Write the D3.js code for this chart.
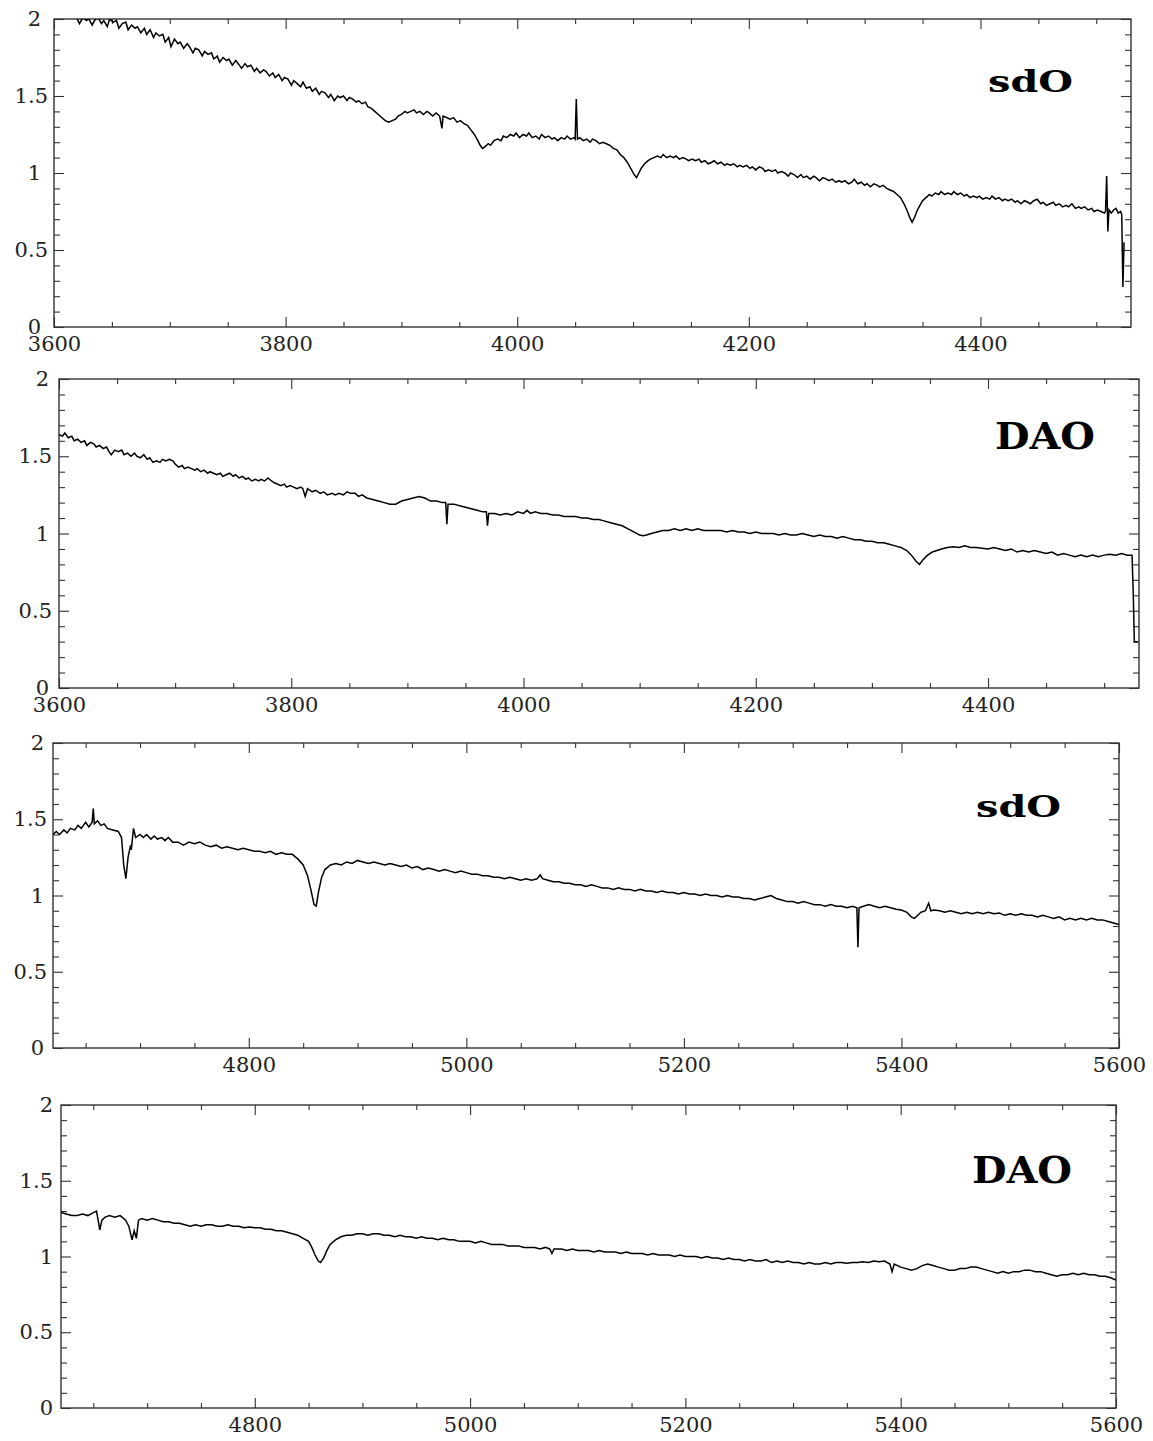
<!DOCTYPE html>
<html><head><meta charset="utf-8">
<script src="https://cdn.jsdelivr.net/npm/d3@7"></script>
<style>body{margin:0;background:#fff}</style>
</head><body><svg id="c" width="1153" height="1441"></svg>
<script>
// ---- Data: wavelength (Å), relative flux ----
const sdoBlue = [
[3600,2.08],[3604,2.05],[3608,2.07],[3612,2.03],[3616,2.04],[3620,2.00],[3622,1.97],[3625,2.01],[3628,1.99],[3630,2.00],
[3633,1.96],[3635,1.99],[3638,2.01],[3641,1.97],[3643,1.99],[3646,1.95],[3648,2.00],[3651,1.98],[3654,1.99],[3656,1.94],
[3659,1.97],[3662,1.98],[3664,1.93],[3667,1.96],[3670,1.94],[3672,1.95],[3675,1.91],[3678,1.94],[3680,1.90],[3683,1.93],
[3686,1.88],[3688,1.91],[3691,1.89],[3694,1.90],[3696,1.85],[3699,1.88],[3701,1.82],[3704,1.87],[3707,1.84],[3709,1.85],
[3712,1.81],[3715,1.84],[3717,1.82],[3720,1.78],[3722,1.81],[3725,1.80],[3728,1.76],[3730,1.79],[3733,1.77],[3736,1.78],
[3738,1.74],[3741,1.76],[3743,1.72],[3746,1.75],[3749,1.73],[3751,1.74],[3754,1.70],[3757,1.73],[3759,1.71],[3762,1.68],
[3765,1.71],[3767,1.69],[3770,1.70],[3773,1.66],[3775,1.68],[3778,1.65],[3781,1.67],[3783,1.66],[3786,1.63],[3789,1.65],
[3791,1.62],[3794,1.64],[3797,1.60],[3799,1.62],[3802,1.61],[3805,1.57],[3807,1.60],[3810,1.58],[3813,1.56],[3815,1.59],
[3818,1.55],[3821,1.56],[3823,1.53],[3826,1.55],[3829,1.51],[3831,1.53],[3834,1.52],[3837,1.49],[3839,1.51],[3842,1.47],
[3845,1.50],[3847,1.49],[3850,1.50],[3853,1.47],[3855,1.49],[3858,1.48],[3861,1.46],[3863,1.47],[3866,1.45],[3869,1.46],
[3871,1.43],[3874,1.42],[3877,1.40],[3880,1.38],[3883,1.36],[3886,1.34],[3889,1.33],[3892,1.34],[3895,1.35],[3897,1.37],
[3900,1.38],[3903,1.40],[3905,1.39],[3908,1.40],[3911,1.41],[3913,1.39],[3916,1.40],[3919,1.38],[3922,1.40],[3924,1.39],
[3927,1.37],[3930,1.39],[3933,1.37],[3935,1.29],[3936,1.37],[3939,1.36],[3942,1.35],[3945,1.36],[3948,1.33],[3951,1.34],
[3954,1.32],[3957,1.31],[3960,1.28],[3963,1.25],[3966,1.21],[3968,1.18],[3970,1.16],[3972,1.17],[3975,1.19],[3977,1.18],
[3980,1.21],[3983,1.22],[3986,1.21],[3988,1.24],[3991,1.23],[3994,1.25],[3997,1.24],[3999,1.26],[4002,1.23],[4005,1.25],
[4008,1.24],[4010,1.26],[4013,1.23],[4016,1.24],[4019,1.22],[4021,1.25],[4024,1.23],[4027,1.24],[4030,1.22],[4032,1.23],
[4035,1.21],[4038,1.23],[4041,1.22],[4043,1.24],[4046,1.22],[4049,1.23],[4050,1.22],[4051,1.48],[4052,1.22],[4054,1.23],
[4057,1.21],[4060,1.22],[4063,1.20],[4065,1.22],[4068,1.21],[4071,1.19],[4074,1.20],[4077,1.19],[4080,1.18],[4083,1.16],
[4086,1.15],[4089,1.12],[4092,1.10],[4095,1.07],[4098,1.03],[4101,0.99],[4103,0.97],[4105,1.00],[4107,1.03],[4110,1.06],
[4113,1.08],[4115,1.09],[4118,1.10],[4121,1.11],[4124,1.10],[4126,1.12],[4129,1.10],[4132,1.11],[4135,1.10],[4137,1.11],
[4140,1.09],[4143,1.10],[4146,1.09],[4148,1.08],[4151,1.09],[4154,1.08],[4157,1.09],[4159,1.07],[4162,1.08],[4165,1.06],
[4168,1.07],[4170,1.08],[4173,1.06],[4176,1.07],[4179,1.05],[4181,1.06],[4184,1.05],[4187,1.06],[4190,1.04],[4192,1.05],
[4195,1.04],[4198,1.05],[4201,1.03],[4203,1.04],[4206,1.02],[4209,1.04],[4212,1.03],[4214,1.01],[4217,1.02],[4220,1.01],
[4223,1.02],[4225,1.00],[4228,1.01],[4231,1.00],[4234,0.98],[4236,1.00],[4239,0.99],[4242,0.97],[4245,0.99],[4247,0.97],
[4250,0.98],[4253,0.96],[4256,0.98],[4258,0.97],[4261,0.95],[4264,0.97],[4267,0.96],[4269,0.95],[4272,0.96],[4275,0.94],
[4278,0.95],[4280,0.94],[4283,0.95],[4286,0.93],[4289,0.94],[4291,0.96],[4294,0.93],[4297,0.94],[4300,0.92],[4302,0.93],
[4305,0.91],[4308,0.93],[4311,0.92],[4313,0.91],[4316,0.92],[4319,0.90],[4322,0.89],[4325,0.88],[4328,0.86],[4331,0.84],
[4334,0.80],[4337,0.75],[4339,0.71],[4341,0.68],[4343,0.71],[4345,0.75],[4347,0.78],[4350,0.82],[4353,0.84],[4356,0.86],
[4358,0.85],[4361,0.87],[4364,0.86],[4366,0.88],[4369,0.86],[4372,0.87],[4375,0.86],[4377,0.88],[4380,0.86],[4383,0.87],
[4386,0.85],[4388,0.86],[4391,0.84],[4394,0.85],[4397,0.84],[4399,0.85],[4402,0.83],[4405,0.84],[4408,0.83],[4410,0.85],
[4413,0.83],[4416,0.84],[4419,0.82],[4421,0.83],[4424,0.82],[4427,0.83],[4430,0.81],[4432,0.82],[4435,0.80],[4438,0.82],
[4441,0.81],[4443,0.80],[4446,0.82],[4449,0.83],[4452,0.80],[4454,0.81],[4457,0.79],[4460,0.80],[4463,0.81],[4465,0.79],
[4468,0.80],[4471,0.78],[4474,0.79],[4476,0.78],[4479,0.80],[4482,0.77],[4485,0.78],[4487,0.77],[4490,0.78],[4493,0.76],
[4496,0.77],[4498,0.75],[4501,0.76],[4504,0.75],[4507,0.74],[4508,0.75],[4509,0.98],[4510,0.62],[4511,0.76],[4513,0.74],
[4515,0.76],[4517,0.77],[4519,0.74],[4521,0.75],[4522,0.73],[4523,0.26],[4524,0.55]
];
const daoBlue = [
[3600,1.64],[3603,1.63],[3605,1.65],[3608,1.62],[3611,1.63],[3613,1.60],[3616,1.61],[3619,1.59],[3622,1.60],[3624,1.57],
[3627,1.59],[3630,1.58],[3632,1.56],[3635,1.57],[3638,1.55],[3641,1.56],[3643,1.53],[3645,1.51],[3648,1.54],[3651,1.53],
[3654,1.54],[3656,1.51],[3659,1.52],[3662,1.50],[3665,1.52],[3667,1.50],[3670,1.49],[3673,1.51],[3676,1.48],[3678,1.49],
[3681,1.46],[3684,1.47],[3687,1.46],[3689,1.48],[3692,1.47],[3695,1.48],[3698,1.47],[3700,1.45],[3703,1.43],[3706,1.44],
[3708,1.42],[3711,1.43],[3714,1.42],[3717,1.41],[3719,1.42],[3722,1.40],[3725,1.41],[3728,1.39],[3730,1.40],[3733,1.39],
[3736,1.38],[3739,1.39],[3741,1.37],[3744,1.38],[3747,1.39],[3750,1.37],[3752,1.38],[3755,1.36],[3758,1.37],[3761,1.35],
[3763,1.36],[3766,1.34],[3769,1.35],[3772,1.34],[3774,1.35],[3777,1.34],[3780,1.36],[3783,1.34],[3785,1.33],[3788,1.32],
[3791,1.31],[3794,1.32],[3796,1.30],[3799,1.31],[3802,1.30],[3805,1.29],[3808,1.30],[3810,1.29],[3812,1.24],[3814,1.29],
[3818,1.27],[3821,1.28],[3825,1.26],[3828,1.27],[3831,1.25],[3835,1.26],[3838,1.25],[3841,1.26],[3845,1.25],[3848,1.27],
[3851,1.26],[3855,1.26],[3858,1.24],[3861,1.25],[3865,1.23],[3870,1.22],[3875,1.21],[3880,1.20],[3885,1.19],[3890,1.19],
[3895,1.21],[3900,1.22],[3905,1.23],[3910,1.24],[3915,1.23],[3920,1.21],[3925,1.21],[3930,1.20],[3933,1.20],[3934,1.06],
[3935,1.19],[3940,1.19],[3945,1.18],[3950,1.17],[3955,1.16],[3960,1.15],[3965,1.14],[3968,1.14],[3969,1.05],[3970,1.13],
[3975,1.13],[3980,1.12],[3985,1.13],[3990,1.12],[3995,1.14],[4000,1.13],[4003,1.15],[4006,1.13],[4010,1.14],[4015,1.13],
[4020,1.13],[4025,1.12],[4030,1.12],[4035,1.11],[4040,1.11],[4045,1.11],[4050,1.10],[4055,1.10],[4060,1.09],[4065,1.09],
[4070,1.08],[4075,1.07],[4080,1.06],[4085,1.05],[4090,1.03],[4095,1.01],[4100,0.99],[4103,0.985],[4106,0.99],[4110,1.00],
[4115,1.01],[4120,1.02],[4125,1.02],[4130,1.03],[4135,1.02],[4140,1.03],[4145,1.02],[4150,1.03],[4155,1.02],[4160,1.02],
[4165,1.02],[4170,1.02],[4175,1.01],[4180,1.02],[4185,1.01],[4190,1.01],[4195,1.00],[4200,1.01],[4205,1.00],[4210,1.00],
[4215,1.00],[4220,0.99],[4225,1.00],[4230,0.99],[4235,0.99],[4240,1.00],[4245,0.99],[4250,0.98],[4255,0.99],[4260,0.98],
[4265,0.98],[4270,0.97],[4275,0.98],[4280,0.97],[4285,0.96],[4290,0.96],[4295,0.95],[4300,0.95],[4305,0.94],[4310,0.94],
[4315,0.93],[4320,0.92],[4325,0.91],[4330,0.89],[4334,0.86],[4338,0.82],[4341,0.80],[4344,0.83],[4348,0.86],[4352,0.88],
[4356,0.89],[4360,0.90],[4365,0.91],[4370,0.915],[4375,0.91],[4380,0.92],[4385,0.91],[4390,0.91],[4395,0.905],[4400,0.90],
[4405,0.91],[4410,0.90],[4415,0.89],[4420,0.90],[4425,0.88],[4430,0.89],[4435,0.88],[4440,0.89],[4445,0.88],[4450,0.87],
[4455,0.88],[4460,0.86],[4465,0.87],[4470,0.86],[4475,0.85],[4480,0.86],[4485,0.85],[4490,0.86],[4495,0.85],[4500,0.86],
[4505,0.865],[4510,0.86],[4515,0.87],[4520,0.86],[4524,0.86],[4525,0.63],[4526,0.30],[4529,0.30]
];
const sdoRed = [
[4620,1.40],[4623,1.42],[4626,1.40],[4630,1.43],[4633,1.41],[4636,1.44],[4640,1.43],[4643,1.46],[4646,1.44],[4650,1.48],
[4653,1.45],[4656,1.48],[4657,1.57],[4658,1.47],[4661,1.49],[4664,1.46],[4667,1.47],[4670,1.44],[4675,1.43],[4680,1.42],
[4683,1.38],[4685,1.20],[4687,1.11],[4689,1.25],[4691,1.32],[4692,1.30],[4694,1.44],[4696,1.38],[4700,1.40],[4703,1.38],
[4706,1.40],[4710,1.37],[4713,1.39],[4716,1.37],[4720,1.38],[4723,1.36],[4726,1.38],[4730,1.35],[4735,1.35],[4740,1.33],
[4745,1.35],[4750,1.34],[4755,1.35],[4760,1.33],[4765,1.32],[4770,1.33],[4775,1.31],[4780,1.32],[4785,1.31],[4790,1.30],
[4795,1.31],[4800,1.30],[4805,1.29],[4810,1.29],[4815,1.28],[4820,1.29],[4825,1.27],[4830,1.28],[4835,1.27],[4840,1.27],
[4845,1.24],[4850,1.20],[4854,1.13],[4857,1.04],[4860,0.94],[4862,0.93],[4864,1.02],[4867,1.12],[4870,1.17],[4875,1.20],
[4880,1.21],[4885,1.20],[4890,1.22],[4895,1.21],[4900,1.23],[4905,1.22],[4910,1.21],[4915,1.22],[4920,1.21],[4925,1.20],
[4930,1.21],[4935,1.20],[4940,1.19],[4945,1.20],[4950,1.18],[4955,1.19],[4960,1.17],[4965,1.18],[4970,1.17],[4975,1.16],
[4980,1.17],[4985,1.16],[4990,1.15],[4995,1.16],[5000,1.15],[5005,1.14],[5010,1.14],[5015,1.13],[5020,1.13],[5025,1.12],
[5030,1.12],[5035,1.11],[5040,1.12],[5045,1.11],[5050,1.10],[5055,1.11],[5060,1.10],[5065,1.11],[5068,1.135],[5070,1.11],
[5075,1.10],[5080,1.09],[5085,1.09],[5090,1.08],[5095,1.08],[5100,1.07],[5105,1.07],[5110,1.06],[5115,1.07],[5120,1.06],
[5125,1.05],[5130,1.05],[5135,1.04],[5140,1.05],[5145,1.04],[5150,1.04],[5155,1.03],[5160,1.04],[5165,1.03],[5170,1.03],
[5175,1.02],[5180,1.03],[5185,1.02],[5190,1.02],[5195,1.01],[5200,1.02],[5205,1.01],[5210,1.01],[5215,1.00],[5220,1.01],
[5225,1.00],[5230,1.00],[5235,0.99],[5240,1.00],[5245,0.99],[5250,0.99],[5255,0.98],[5260,0.98],[5265,0.97],[5270,0.98],
[5275,0.99],[5280,1.00],[5285,0.98],[5290,0.97],[5295,0.96],[5300,0.96],[5305,0.95],[5310,0.96],[5315,0.95],[5320,0.94],
[5325,0.94],[5330,0.93],[5335,0.94],[5340,0.93],[5345,0.93],[5350,0.92],[5355,0.93],[5359,0.92],[5360,0.66],[5361,0.92],
[5365,0.93],[5370,0.94],[5375,0.93],[5380,0.92],[5385,0.93],[5390,0.92],[5395,0.91],[5400,0.905],[5405,0.89],[5409,0.86],
[5412,0.85],[5415,0.87],[5418,0.89],[5422,0.90],[5425,0.95],[5427,0.90],[5430,0.905],[5435,0.90],[5440,0.89],[5445,0.90],
[5450,0.89],[5455,0.88],[5460,0.89],[5465,0.88],[5470,0.89],[5475,0.88],[5480,0.89],[5485,0.88],[5490,0.885],[5495,0.87],
[5500,0.88],[5505,0.87],[5510,0.88],[5515,0.87],[5520,0.87],[5525,0.86],[5530,0.87],[5535,0.86],[5540,0.85],[5545,0.86],
[5550,0.84],[5555,0.85],[5560,0.84],[5565,0.85],[5570,0.84],[5575,0.85],[5580,0.84],[5585,0.84],[5590,0.83],[5595,0.82],
[5600,0.81]
];
const daoRed = [
[4620,1.29],[4625,1.28],[4630,1.27],[4635,1.27],[4640,1.28],[4645,1.27],[4650,1.29],[4653,1.30],[4655,1.22],[4656,1.175],
[4658,1.24],[4661,1.26],[4665,1.27],[4670,1.26],[4675,1.27],[4680,1.24],[4683,1.20],[4686,1.11],[4688,1.17],[4690,1.12],
[4692,1.24],[4695,1.25],[4700,1.24],[4705,1.25],[4710,1.24],[4715,1.23],[4720,1.23],[4725,1.22],[4730,1.22],[4735,1.21],
[4740,1.20],[4745,1.21],[4750,1.20],[4755,1.21],[4760,1.21],[4765,1.20],[4770,1.20],[4775,1.21],[4780,1.20],[4785,1.20],
[4790,1.19],[4795,1.195],[4800,1.19],[4805,1.19],[4810,1.18],[4815,1.18],[4820,1.17],[4825,1.17],[4830,1.16],[4835,1.15],
[4840,1.14],[4845,1.12],[4850,1.10],[4853,1.06],[4856,1.01],[4859,0.97],[4861,0.96],[4864,0.99],[4867,1.04],[4870,1.08],
[4875,1.11],[4880,1.13],[4885,1.14],[4890,1.14],[4895,1.15],[4900,1.15],[4905,1.14],[4910,1.15],[4915,1.15],[4920,1.14],
[4925,1.14],[4930,1.13],[4935,1.14],[4940,1.13],[4945,1.13],[4950,1.12],[4955,1.13],[4960,1.12],[4965,1.12],[4970,1.11],
[4975,1.12],[4980,1.11],[4985,1.11],[4990,1.10],[4995,1.10],[5000,1.10],[5005,1.09],[5010,1.10],[5015,1.09],[5020,1.08],
[5025,1.08],[5030,1.08],[5035,1.07],[5040,1.07],[5045,1.07],[5050,1.06],[5055,1.06],[5060,1.06],[5065,1.05],[5070,1.06],
[5074,1.05],[5076,1.02],[5078,1.05],[5080,1.05],[5085,1.05],[5090,1.04],[5095,1.05],[5100,1.04],[5105,1.04],[5110,1.04],
[5115,1.03],[5120,1.04],[5125,1.03],[5130,1.03],[5135,1.03],[5140,1.02],[5145,1.03],[5150,1.02],[5155,1.02],[5160,1.02],
[5165,1.01],[5170,1.02],[5175,1.01],[5180,1.01],[5185,1.01],[5190,1.00],[5195,1.01],[5200,1.00],[5205,1.00],[5210,1.00],
[5215,0.99],[5220,1.00],[5225,0.99],[5230,0.99],[5235,0.98],[5240,0.99],[5245,0.98],[5250,0.98],[5255,0.97],[5260,0.98],
[5265,0.97],[5270,0.97],[5275,0.98],[5280,0.96],[5285,0.97],[5290,0.96],[5295,0.97],[5300,0.96],[5305,0.96],[5310,0.95],
[5315,0.96],[5320,0.95],[5325,0.95],[5330,0.96],[5335,0.95],[5340,0.96],[5345,0.96],[5350,0.955],[5355,0.96],[5360,0.96],
[5365,0.965],[5370,0.96],[5375,0.97],[5380,0.965],[5385,0.97],[5390,0.95],[5392,0.90],[5394,0.95],[5400,0.93],[5405,0.92],
[5410,0.91],[5415,0.92],[5420,0.94],[5425,0.95],[5430,0.94],[5435,0.93],[5440,0.92],[5445,0.91],[5450,0.91],[5455,0.92],
[5460,0.92],[5465,0.93],[5470,0.93],[5475,0.92],[5480,0.91],[5485,0.90],[5490,0.89],[5495,0.90],[5500,0.89],[5505,0.90],
[5510,0.90],[5515,0.91],[5520,0.91],[5525,0.90],[5530,0.90],[5535,0.89],[5540,0.88],[5545,0.87],[5550,0.88],[5555,0.88],
[5560,0.89],[5565,0.88],[5570,0.89],[5575,0.88],[5580,0.88],[5585,0.87],[5590,0.87],[5595,0.86],[5600,0.845]
];
const panelLabels = ["sdO", "DAO", "sdO", "DAO"];
const xTicksBlue = [3600, 3800, 4000, 4200, 4400];
const xTicksRed = [4800, 5000, 5200, 5400, 5600];
const yTicks = [0, 0.5, 1, 1.5, 2];
const xDomainBlue = [3600, 4530];
const xDomainRed = [4620, 5600];
const yDomain = [0, 2];

// ---- Layout ----
const panels = [
  {data: sdoBlue, label: panelLabels[0], dom: xDomainBlue, ticks: xTicksBlue, L: 54, R: 1131, T: 19, B: 327, lx: 1073, ly: 92, fs: 30, tl: 85, io: 13, dc: 6},
  {data: daoBlue, label: panelLabels[1], dom: xDomainBlue, ticks: xTicksBlue, L: 59, R: 1139, T: 379, B: 688, lx: 1095, ly: 449, fs: 38, tl: 100, io: 10, dc: 7},
  {data: sdoRed, label: panelLabels[2], dom: xDomainRed, ticks: xTicksRed, L: 53, R: 1119, T: 743, B: 1048, lx: 1061, ly: 817, fs: 30, tl: 85, io: 9, dc: 6},
  {data: daoRed, label: panelLabels[3], dom: xDomainRed, ticks: xTicksRed, L: 61, R: 1116, T: 1105, B: 1408, lx: 1072, ly: 1183, fs: 38, tl: 100, io: 8, dc: 8}
];

const svg = d3.select("#c");
const frameColor = "#333";
const tickFont = "'DejaVu Serif', serif";

panels.forEach((p, i) => {
  const x = d3.scaleLinear().domain(p.dom).range([p.L, p.R]);
  const y = d3.scaleLinear().domain(yDomain).range([p.B, p.T]);
  const minorX = d3.range(Math.ceil(p.dom[0] / 50) * 50, p.dom[1] + 1, 50).filter(v => v % 200 !== 0);
  const minorY = d3.range(0, 2.0001, 0.1).map(v => +v.toFixed(1)).filter(v => Math.abs(v * 2 - Math.round(v * 2)) > 1e-6);

  const g = svg.append("g");
  const clipId = "clip" + i;
  g.append("clipPath").attr("id", clipId).append("rect")
    .attr("x", p.L).attr("y", p.T).attr("width", p.R - p.L).attr("height", p.B - p.T);

  function styleAxis(sel) {
    sel.select(".domain").remove();
    sel.selectAll(".tick line").attr("stroke", frameColor).attr("stroke-width", 1.1);
    sel.attr("font-family", tickFont).attr("font-size", 21);
    sel.selectAll(".tick text").attr("fill", "#222");
  }
  // bottom
  g.append("g").attr("transform", `translate(0,${p.B})`)
    .call(d3.axisBottom(x).tickValues(p.ticks).tickSize(-10).tickPadding(9).tickFormat(d3.format("d"))).call(styleAxis);
  g.append("g").attr("transform", `translate(0,${p.B})`)
    .call(d3.axisBottom(x).tickValues(minorX).tickSize(-5).tickFormat("")).call(styleAxis);
  // top
  g.append("g").attr("transform", `translate(0,${p.T})`)
    .call(d3.axisTop(x).tickValues(p.ticks.filter(v => v <= p.dom[1])).tickSize(-10).tickFormat("")).call(styleAxis);
  g.append("g").attr("transform", `translate(0,${p.T})`)
    .call(d3.axisTop(x).tickValues(minorX).tickSize(-5).tickFormat("")).call(styleAxis);
  // left
  const yl = g.append("g").attr("transform", `translate(${p.L},0)`)
    .call(d3.axisLeft(y).tickValues(yTicks).tickSize(-10).tickPadding(6).tickFormat(d3.format("~g"))).call(styleAxis);
  yl.selectAll(".tick text").attr("x", d => Number.isInteger(d) ? -p.io : -p.dc)
    .attr("dy", d => d === 0 ? "0.3em" : "0.32em");
  g.append("g").attr("transform", `translate(${p.L},0)`)
    .call(d3.axisLeft(y).tickValues(minorY).tickSize(-6).tickFormat("")).call(styleAxis);
  // right
  g.append("g").attr("transform", `translate(${p.R},0)`)
    .call(d3.axisRight(y).tickValues(yTicks).tickSize(-10).tickFormat("")).call(styleAxis);
  g.append("g").attr("transform", `translate(${p.R},0)`)
    .call(d3.axisRight(y).tickValues(minorY).tickSize(-6).tickFormat("")).call(styleAxis);

  // frame
  g.append("rect").attr("x", p.L).attr("y", p.T).attr("width", p.R - p.L).attr("height", p.B - p.T)
    .attr("fill", "none").attr("stroke", frameColor).attr("stroke-width", 1.4);

  // spectrum
  const line = d3.line().x(d => x(d[0])).y(d => y(d[1]));
  g.append("path").datum(p.data).attr("clip-path", `url(#${clipId})`)
    .attr("d", line).attr("fill", "none").attr("stroke", "#000").attr("stroke-width", 1.5)
    .attr("stroke-linejoin", "miter");

  // label
  g.append("text").attr("x", p.lx).attr("y", p.ly).attr("text-anchor", "end")
    .attr("font-family", "'DejaVu Serif', serif").attr("font-weight", "bold").attr("font-size", p.fs)
    .attr("textLength", p.tl).attr("lengthAdjust", "spacingAndGlyphs").attr("fill", "#000")
    .text(p.label);
});
</script>
</body></html>
